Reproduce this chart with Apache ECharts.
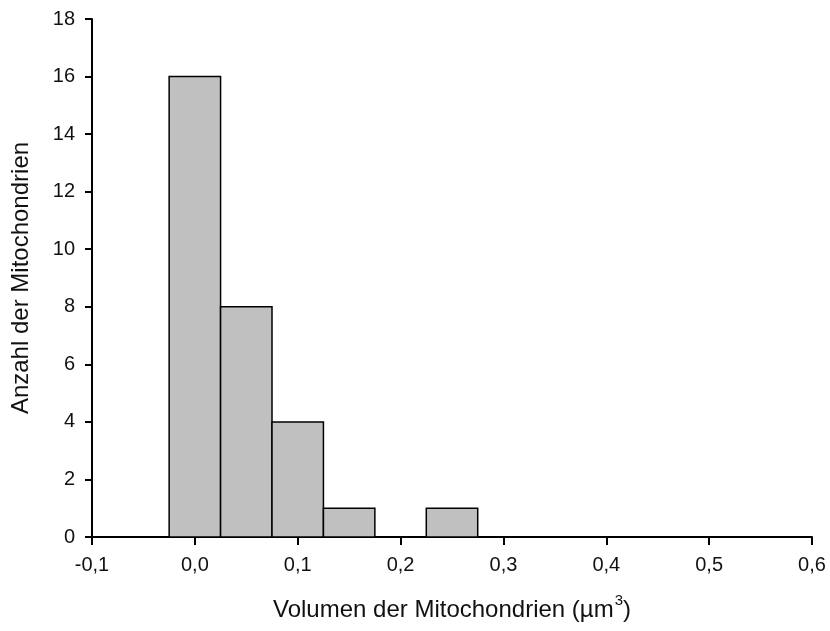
<!DOCTYPE html>
<html>
<head>
<meta charset="utf-8">
<script src="https://cdn.jsdelivr.net/npm/echarts@6/dist/echarts.min.js"></script>
<style>
  html, body { margin: 0; padding: 0; background: #fff; }
  #chart { width: 830px; height: 631px; }
</style>
</head>
<body>
<div id="chart"></div>
<script>
// Histogram bins: centre of each volume class (µm³) and its count
const binCenters = [0.0, 0.05, 0.1, 0.15, 0.2, 0.25];
const binCounts = [16, 8, 4, 1, 0, 1];
const binWidth = 0.05;

const xMin = -0.1, xMax = 0.6, xStep = 0.1;
const yMin = 0, yMax = 18, yStep = 2;

const fontFamily = '"Liberation Sans", Arial, sans-serif';
const fmtComma = v => v.toFixed(1).replace('.', ',').replace('-0,0', '0,0');

const chart = echarts.init(document.getElementById('chart'));
chart.setOption({
  animation: false,
  backgroundColor: '#fff',
  grid: { left: 92, right: 18, top: 19, bottom: 94 },
  xAxis: {
    type: 'value',
    min: xMin, max: xMax, interval: xStep,
    name: '{n|Volumen der Mitochondrien (µm}{s|3}{n|)}',
    nameLocation: 'middle',
    nameGap: 56,
    nameTextStyle: {
      rich: {
        n: { fontSize: 24, color: '#111', fontFamily: fontFamily, lineHeight: 34 },
        s: { fontSize: 15, color: '#111', fontFamily: fontFamily, lineHeight: 15, verticalAlign: 'top', padding: [0, 0, 0, 1] }
      }
    },
    axisLine: { onZero: false, lineStyle: { color: '#000', width: 2 } },
    axisTick: { show: true, inside: false, length: 8, lineStyle: { color: '#000', width: 2 } },
    axisLabel: { margin: 18, fontSize: 20, color: '#111', fontFamily: fontFamily, formatter: v => fmtComma(v) },
    splitLine: { show: false }
  },
  yAxis: {
    type: 'value',
    min: yMin, max: yMax, interval: yStep,
    name: 'Anzahl der Mitochondrien',
    nameLocation: 'middle',
    nameGap: 59,
    nameTextStyle: { fontSize: 24, color: '#111', fontFamily: fontFamily },
    axisLine: { show: true, onZero: false, lineStyle: { color: '#000', width: 2 } },
    axisTick: { show: true, inside: false, length: 7, lineStyle: { color: '#000', width: 2 } },
    axisLabel: { margin: 17, fontSize: 20, color: '#111', fontFamily: fontFamily },
    splitLine: { show: false }
  },
  series: [{
    type: 'custom',
    data: binCenters.map((c, i) => [c, binCounts[i]]),
    encode: { x: 0, y: 1 },
    renderItem: function (params, api) {
      const c = api.value(0), n = api.value(1);
      if (!n) return null;
      const p0 = api.coord([c - binWidth / 2, n]);
      const p1 = api.coord([c + binWidth / 2, 0]);
      return {
        type: 'rect',
        shape: { x: p0[0], y: p0[1], width: p1[0] - p0[0], height: p1[1] - p0[1] },
        style: { fill: '#c0c0c0', stroke: '#000', lineWidth: 1.5 }
      };
    }
  }]
});
</script>
</body>
</html>
